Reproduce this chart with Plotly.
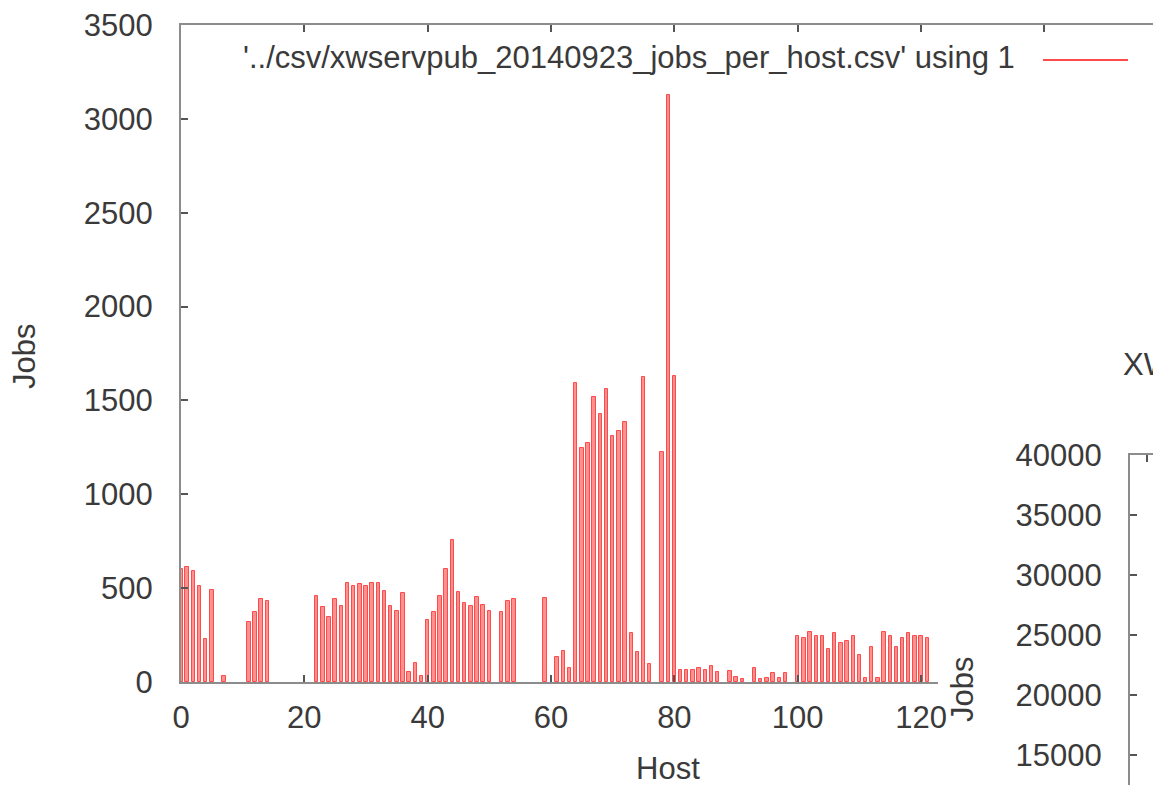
import plotly.graph_objects as go

# the page body adds an 8px margin; the figure fills the rest of the 1161x785 window
OFF = 8
W, H = 1161 - OFF, 785 - OFF

# ---- data ----
hosts = list(range(122))
jobs = [
    600, 614, 593, 513, 229, 490, 0, 34, 0, 0,          # 0-9
    0, 318, 375, 442, 431, 0, 0, 0, 0, 0,               # 10-19
    0, 0, 460, 401, 344, 442, 407, 526, 513, 520,       # 20-29
    513, 526, 526, 485, 405, 378, 472, 52, 103, 34,     # 30-39
    330, 371, 460, 602, 756, 481, 419, 405, 451, 411,   # 40-49
    378, 0, 371, 431, 442, 0, 0, 0, 0, 449,             # 50-59
    0, 135, 165, 73, 1591, 1245, 1272, 1520, 1428, 1559,  # 60-69
    1312, 1339, 1387, 259, 158, 1623, 96, 0, 1227, 3127,  # 70-79
    1630, 64, 64, 64, 76, 64, 85, 52, 0, 60,            # 80-89
    25, 15, 0, 76, 15, 20, 46, 20, 46, 0,               # 90-99
    245, 233, 268, 245, 245, 174, 259, 206, 218, 245,   # 100-109
    144, 20, 185, 20, 268, 245, 185, 233, 259, 245,     # 110-119
    245, 233,                                           # 120-121
]
y_ticks = [0, 500, 1000, 1500, 2000, 2500, 3000, 3500]
x_ticks = [0, 20, 40, 60, 80, 100, 120]
top_x_ticks = [0, 20, 40, 60, 80, 100, 120, 140, 160]
right_y_ticks = [2500, 3000]
legend_label = "'../csv/xwservpub_20140923_jobs_per_host.csv' using 1"
x_title = "Host"
y_title = "Jobs"
second_title = "XWServPub"
second_y_ticks = [15000, 20000, 25000, 30000, 35000, 40000]

# ---- styling ----
FONT = "Liberation Sans, Arial, Helvetica, sans-serif"
FS = 31
TXT = "#3a3a3a"
AX = "#8c8c8c"
RED = "#ff4a4a"


def px(x):
    """window pixel x -> paper fraction"""
    return (x - OFF) / W


def py(y):
    """window pixel y -> paper fraction"""
    return 1 - (y - OFF) / H


# main plot geometry (window pixels)
L, R_BOT, R_TOP, T, B = 181, 938, 1161, 25, 682
PPH = 6.167  # pixels per host

fig = go.Figure()
fig.add_trace(go.Bar(
    x=hosts, y=[v if v > 0 else None for v in jobs], width=0.55,
    marker=dict(color="#ff9090", line=dict(color=RED, width=1)),
    showlegend=False, xaxis="x", yaxis="y", hoverinfo="x+y",
))
# empty traces so that the extra axes (top border, right ticks, second plot) are drawn
for xa, ya in (("x3", "y"), ("x", "y4"), ("x2", "y2")):
    fig.add_trace(go.Scatter(x=[], y=[], xaxis=xa, yaxis=ya, showlegend=False,
                             hoverinfo="skip"))

axis_common = dict(showgrid=False, zeroline=False, showline=True, linecolor=AX,
                   linewidth=2, ticks="inside", tickcolor="#555555", tickwidth=1.5,
                   ticklen=7, automargin=False, ticklabeloverflow="allow",
                   tickfont=dict(family=FONT, size=FS, color=TXT))

fig.update_layout(
    template="none",
    width=W, height=H,
    margin=dict(l=0, r=0, t=0, b=0, pad=0, autoexpand=False),
    paper_bgcolor="white", plot_bgcolor="rgba(0,0,0,0)",
    bargap=0,
    xaxis=dict(axis_common, domain=[px(L), px(R_BOT)],
               range=[0, (R_BOT - L) / PPH], tickvals=x_ticks,
               anchor="y", ticklabelstandoff=7),
    xaxis3=dict(axis_common, domain=[px(L), 1],
                range=[0, (R_TOP - L) / PPH], tickvals=top_x_ticks,
                showticklabels=False, side="top", anchor="y"),
    yaxis=dict(axis_common, domain=[py(B), py(T)], range=[0, 3500],
               tickvals=y_ticks, anchor="x", ticklabelstandoff=20),
    yaxis4=dict(axis_common, overlaying="y", side="right", anchor="free",
                position=1, range=[0, 3500], tickvals=right_y_ticks,
                showticklabels=False, showline=False),
    xaxis2=dict(axis_common, domain=[px(1130), 1], range=[0, 10],
                tickvals=[5.5], showticklabels=False, side="top", anchor="y2"),
    yaxis2=dict(axis_common, domain=[0, py(455)], range=[12500, 40000],
                tickvals=second_y_ticks, tickformat="d", anchor="x2",
                ticklabelstandoff=20),
)

ann_font = dict(family=FONT, size=FS, color=TXT)
fig.add_annotation(text=legend_label, x=px(1017), y=py(58), xref="paper", yref="paper",
                   xanchor="right", yanchor="middle", showarrow=False, font=ann_font)
fig.add_shape(type="line", x0=px(1043), x1=px(1128), y0=py(60), y1=py(60),
              xref="paper", yref="paper", line=dict(color=RED, width=2))
fig.add_annotation(text=x_title, x=px(668), y=py(768), xref="paper", yref="paper",
                   xanchor="center", yanchor="middle", showarrow=False, font=ann_font)
fig.add_annotation(text=y_title, x=px(24), y=py(357), xref="paper", yref="paper",
                   xanchor="center", yanchor="middle", textangle=-90, showarrow=False,
                   font=ann_font)
fig.add_annotation(text=y_title, x=px(962), y=py(690), xref="paper", yref="paper",
                   xanchor="center", yanchor="middle", textangle=-90, showarrow=False,
                   font=ann_font)
fig.add_annotation(text=second_title, x=px(1121), y=py(364), xref="paper", yref="paper",
                   xanchor="left", yanchor="middle", showarrow=False, font=ann_font)

fig.write_html("out.html")
